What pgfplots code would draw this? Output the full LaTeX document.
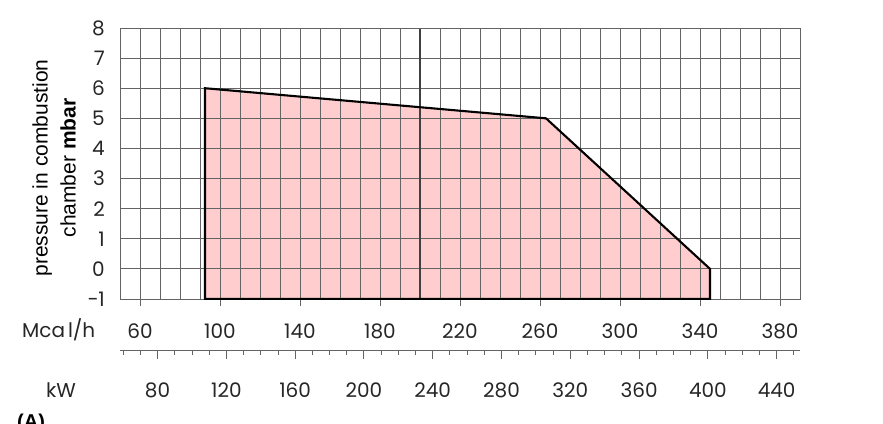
\documentclass[border=0pt]{standalone}
\usepackage{pgfplots}
\pgfplotsset{compat=1.18}
\usepackage{fontspec}
\setmainfont{Poppins}
\newfontfamily\arial{Liberation Sans}
\definecolor{pinkfill}{RGB}{255,205,205}
\definecolor{gridc}{RGB}{100,100,100}
\begin{document}
\begin{tikzpicture}
\begin{axis}[
  set layers,
  at={(0pt,0pt)}, anchor=south west,
  scale only axis, width=680pt, height=271pt,
  xmin=50, xmax=390, ymin=-1, ymax=8,
  xtick={60,100,...,380},
  xticklabels={60,100,140,180,220,260,300,340,380},
  minor xtick={50,60,...,390},
  ytick={-1,0,...,8},
  yticklabels={−1,0,1,2,3,4,5,6,7,8},
  grid=both,
  major grid style={draw=gridc, line width=0.9pt},
  minor grid style={draw=gridc, line width=0.9pt},
  axis line style={draw=gridc, line width=0.9pt},
  tick align=outside, xtick pos=bottom, ytick pos=left,
  major tick length=7pt, minor tick length=0pt,
  xtick style={draw=gridc, line width=0.9pt},
  ytick style={draw=none},
  xticklabel style={font=\fontsize{20}{24}\selectfont, anchor=base, yshift=-32pt, text=black!85},
  yticklabel style={font=\fontsize{20}{24}\selectfont, anchor=east, inner sep=0pt, xshift=-8pt, text=black!85},
]
\addplot[fill=pinkfill, draw=none, on layer=axis background] coordinates {(92.5,-1) (92.5,6) (263,5) (345,0) (345,-1)} -- cycle;
\addplot[draw=black!75, line width=1.3pt, on layer=axis grid] coordinates {(200,-1) (200,8)};
\addplot[draw=black, line width=2.1pt, line join=miter] coordinates {(92.5,-1) (92.5,6) (263,5) (345,0) (345,-1)} -- cycle;
\end{axis}
\begin{axis}[
  at={(0pt,-51.5pt)}, anchor=south west,
  scale only axis, width=680pt, height=10pt,
  xmin=58.150, xmax=453.57, ymin=0, ymax=1,
  axis x line*=bottom, axis y line=none,
  x axis line style={-, draw=gridc, line width=1.2pt},
  xtick={80,120,...,440},
  xticklabels={80,120,160,200,240,280,320,360,400,440},
  minor xtick={60,70,...,450},
  tick align=outside, major tick length=8pt, minor tick length=4pt,
  xtick style={draw=gridc, line width=0.9pt},
  xticklabel style={font=\fontsize{20}{24}\selectfont, anchor=base, yshift=-38.5pt, text=black!85},
]
\addplot[draw=none] coordinates {(100,0.5)};
\end{axis}
\draw[draw=gridc, line width=1.2pt] (0pt,-51.5pt) -- (680pt,-51.5pt);
\node[anchor=base west, inner sep=0pt, font=\fontsize{20}{24}\selectfont, text=black!85] at (-98pt,-38pt) {Mca\hspace{3pt}l/h};
\node[anchor=base, inner sep=0pt, font=\fontsize{20}{24}\selectfont, text=black!85] at (-59pt,-98pt) {kW};
\node[rotate=90, align=center, inner sep=0pt, font=\arial\fontsize{21}{28}\selectfont] at (-66pt,131pt) {pressure in combustion\\chamber \textbf{mbar}};
\node[anchor=north west, inner sep=0pt, font=\arial\bfseries\fontsize{20}{24}\selectfont] at (-103pt,-115pt) {(A)};
\pgfresetboundingbox
\path[use as bounding box] (-120pt,-124pt) rectangle (763pt,299pt);
\end{tikzpicture}
\end{document}
